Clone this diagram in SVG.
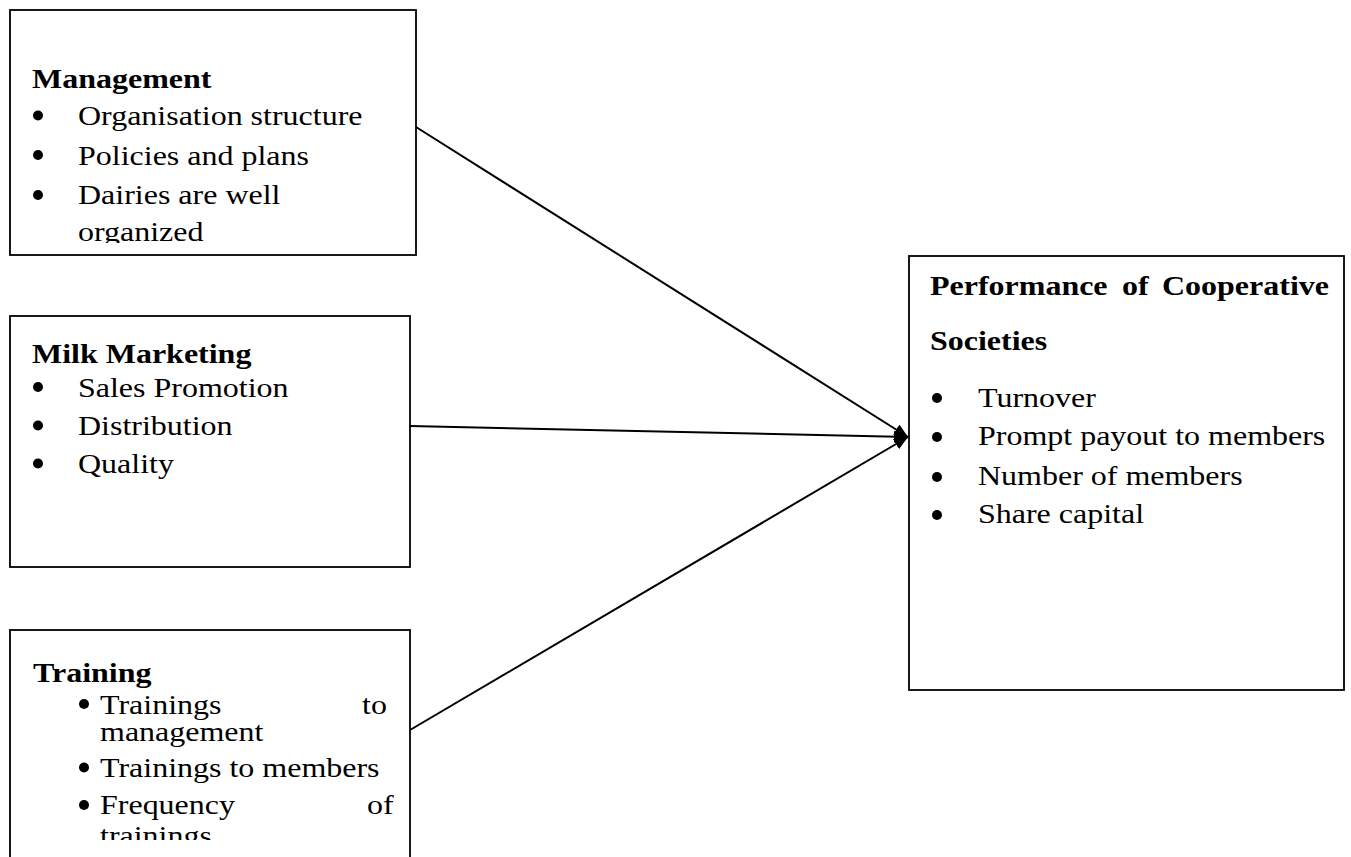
<svg xmlns="http://www.w3.org/2000/svg" width="1351" height="857" viewBox="0 0 1351 857">
<style>
.box{fill:#fff;stroke:#000;stroke-width:1.8}
.conn{stroke:#000;stroke-width:2;fill:none}
.dot{fill:#000}
</style>
<defs>
<marker id="arr" markerUnits="userSpaceOnUse" markerWidth="15" markerHeight="12" refX="14" refY="6" orient="auto">
<path d="M0,0 L14,6 L0,12 z" fill="#000"/>
</marker>
<clipPath id="c1"><rect x="10" y="10" width="406" height="233"/></clipPath>
<clipPath id="c3"><rect x="10" y="630" width="400" height="210"/></clipPath>
</defs>
<rect width="1351" height="857" fill="#fff"/>
<g font-family="Liberation Serif, Times New Roman, Times, serif" font-size="28" fill="#000">
<g id="management">
<rect class="box" x="10" y="10" width="406" height="245"/>
<circle class="dot" cx="38" cy="115.5" r="5"/>
<circle class="dot" cx="38" cy="155" r="5"/>
<circle class="dot" cx="38" cy="195" r="5"/>
<g clip-path="url(#c1)">
<text font-weight="bold" transform="translate(32,88) scale(1.143,1)">Management</text>
<text transform="translate(78,125) scale(1.143,1)">Organisation structure</text>
<text transform="translate(78,165) scale(1.143,1)">Policies and plans</text>
<text transform="translate(78,204) scale(1.143,1)">Dairies are well</text>
<text transform="translate(78,241) scale(1.143,1)">organized</text>
</g>
</g>
<g id="milk-marketing">
<rect class="box" x="10" y="316" width="400" height="251"/>
<circle class="dot" cx="38" cy="387" r="5"/>
<circle class="dot" cx="38" cy="425.5" r="5"/>
<circle class="dot" cx="38" cy="463.5" r="5"/>
<text font-weight="bold" transform="translate(32,363) scale(1.143,1)">Milk Marketing</text>
<text transform="translate(78,397) scale(1.143,1)">Sales Promotion</text>
<text transform="translate(78,435) scale(1.143,1)">Distribution</text>
<text transform="translate(78,473) scale(1.143,1)">Quality</text>
</g>
<g id="training">
<rect class="box" x="10" y="630" width="400" height="250"/>
<circle class="dot" cx="84" cy="704" r="5"/>
<circle class="dot" cx="84" cy="767.5" r="5"/>
<circle class="dot" cx="84" cy="805" r="5"/>
<g clip-path="url(#c3)">
<text font-weight="bold" transform="translate(33,682) scale(1.143,1)">Training</text>
<text transform="translate(100,714) scale(1.143,1)">Trainings</text>
<text transform="translate(362,714) scale(1.143,1)">to</text>
<text transform="translate(100,741) scale(1.143,1)">management</text>
<text transform="translate(100,777) scale(1.143,1)">Trainings to members</text>
<text transform="translate(100,814) scale(1.143,1)">Frequency</text>
<text transform="translate(367,814) scale(1.143,1)">of</text>
<text transform="translate(100,845) scale(1.143,1)">trainings</text>
</g>
</g>
<g id="performance">
<rect class="box" x="909" y="256" width="435" height="434"/>
<circle class="dot" cx="937" cy="398" r="5"/>
<circle class="dot" cx="937" cy="437" r="5"/>
<circle class="dot" cx="937" cy="477" r="5"/>
<circle class="dot" cx="937" cy="515" r="5"/>
<text font-weight="bold" transform="translate(930,295) scale(1.143,1)">Performance</text>
<text font-weight="bold" transform="translate(1122,295) scale(1.143,1)">of</text>
<text font-weight="bold" transform="translate(1162,295) scale(1.143,1)">Cooperative</text>
<text font-weight="bold" transform="translate(930,350) scale(1.143,1)">Societies</text>
<text transform="translate(978,407) scale(1.143,1)">Turnover</text>
<text transform="translate(978,445) scale(1.143,1)">Prompt payout to members</text>
<text transform="translate(978,485) scale(1.143,1)">Number of members</text>
<text transform="translate(978,523) scale(1.143,1)">Share capital</text>
</g>
</g>
<g id="connectors">
<line class="conn" x1="416" y1="127" x2="908" y2="437" marker-end="url(#arr)"/>
<line class="conn" x1="410" y1="426" x2="908" y2="437" marker-end="url(#arr)"/>
<line class="conn" x1="410" y1="730" x2="908" y2="437" marker-end="url(#arr)"/>
</g>
</svg>
